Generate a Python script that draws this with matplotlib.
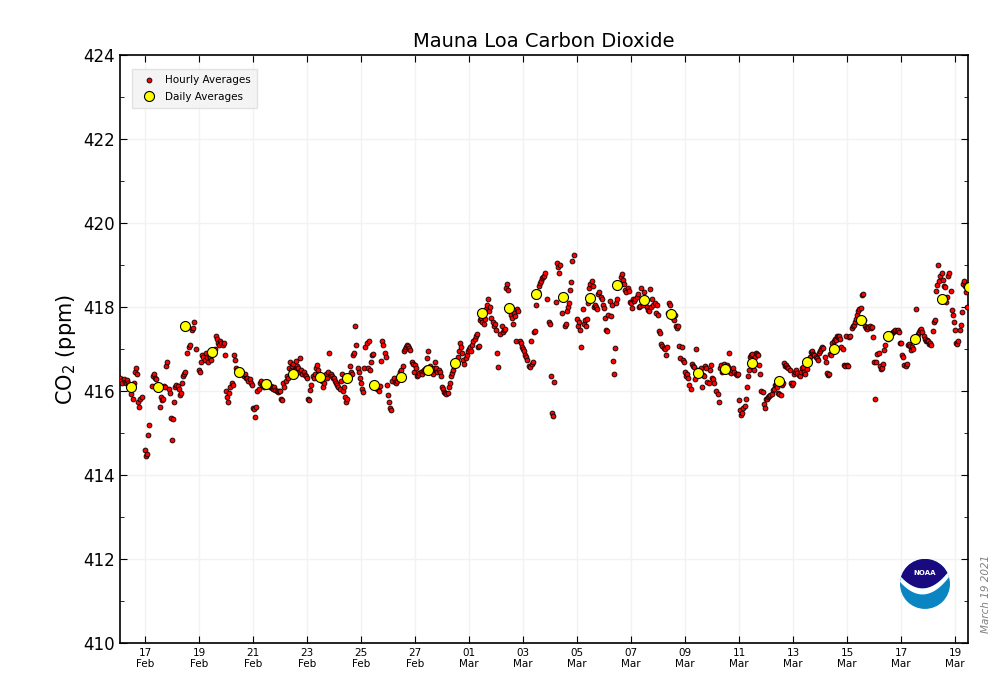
import numpy as np
import pandas as pd
import matplotlib
matplotlib.use("Agg")
import matplotlib.pyplot as plt
import matplotlib.dates as mdates
from matplotlib.patches import Circle, Polygon

nan = np.nan

# hourly averages (ppm), one row per day, hours 0..23
feb_hourly = [
    # Feb 16
    [nan, nan, 416.30, 416.25, 416.20, 416.28, 416.22, 416.18, 416.26, 416.20, 416.15, 416.05,
     415.93, 415.80, 416.20, 416.45, 416.55, 416.40, 415.75, 415.63, 415.80, 415.85, nan, nan],
    # Feb 17
    [414.60, 414.45, 414.50, 414.95, 415.20, nan, 416.12, 416.35, 416.40, 416.30, 416.28, 416.15,
     nan, 415.63, 415.85, 415.78, 415.80, 416.12, 416.10, 416.60, 416.70, 416.05, 415.95, 415.35],
    # Feb 18
    [414.83, 415.33, 415.75, 416.10, 416.15, 416.12, 416.05, 415.90, 415.95, 416.20, 416.35, 416.40,
     416.45, 416.90, nan, 417.05, 417.10, nan, 417.45, 417.50, 417.65, 417.00, nan, nan],
    # Feb 19
    [416.50, 416.45, 416.70, 416.85, 416.80, 416.75, 416.90, 416.80, 416.70, 416.85, 416.80, 416.75,
     416.95, 416.90, 417.00, 417.30, 417.25, 417.15, 417.10, 417.20, 417.15, 417.10, 417.15, 416.85],
    # Feb 20
    [416.00, 415.85, 415.75, 415.95, 416.10, 416.20, 416.15, 416.85, 416.75, 416.55, 416.50, 416.45,
     416.40, 416.48, 416.42, 416.38, 416.35, 416.40, 416.32, 416.30, 416.25, 416.28, 416.20, 416.15],
    # Feb 21
    [415.60, 415.57, 415.38, 415.62, 416.00, 416.05, 416.20, 416.25, 416.15, 416.18, 416.10, 416.20,
     416.12, 416.22, 416.15, 416.10, 416.12, 416.08, 416.05, 416.10, 416.02, 416.00, 415.98, 416.00],
    # Feb 22
    [416.00, 415.82, 415.78, 416.20, 416.10, 416.25, 416.35, 416.30, 416.55, 416.70, 416.50, 416.60,
     416.65, 416.50, 416.72, 416.60, 416.55, 416.45, 416.78, 416.50, 416.40, 416.45, 416.38, 416.35],
    # Feb 23
    [416.30, 415.80, 415.78, 416.02, 416.15, 416.35, 416.32, 416.40, 416.55, 416.62, 416.50, 416.38,
     416.30, 416.25, 416.10, 416.20, 416.35, 416.40, 416.30, 416.45, 416.90, 416.40, 416.35, 416.30],
    # Feb 24
    [416.30, 416.25, 416.20, 416.15, 416.10, 416.05, 416.25, 416.40, 416.00, 416.10, 415.85, 415.75,
     415.80, 416.30, 416.60, 416.45, 416.40, 416.85, 416.90, 417.55, 417.10, 416.55, 416.45, 416.30],
    # Feb 25
    [416.20, 416.05, 415.98, 416.55, 417.05, 417.15, 416.55, 417.18, 416.50, 416.70, 416.85, 416.88,
     416.15, 416.10, 416.05, 416.08, 416.00, 416.12, 416.72, 417.20, 417.10, 416.90, 416.80, 416.15],
    # Feb 26
    [415.90, 415.75, 415.60, 415.55, 416.25, 416.30, 416.22, 416.18, 416.25, 416.30, 416.35, 416.45,
     416.50, 416.60, 416.95, 417.00, 417.05, 417.10, 417.08, 417.02, 416.98, 416.70, 416.65, 416.45],
    # Feb 27
    [416.62, 416.55, 416.35, 416.38, 416.42, 416.45, 416.40, 416.48, 416.50, 416.52, 416.55, 416.78,
     416.95, 416.60, 416.50, 416.45, 416.40, 416.55, 416.70, 416.55, 416.45, 416.50, 416.45, 416.35],
    # Feb 28
    [416.10, 416.05, 415.98, 415.95, 415.92, 415.96, 416.10, 416.20, 416.35, 416.42, 416.50, 416.60,
     416.68, 416.72, 416.82, 416.95, 417.15, 417.05, 416.90, 416.75, 416.65, 416.78, 416.85, 416.95],
]

mar_hourly = [
    # Mar 1
    [417.00, 417.05, 416.95, 417.10, 417.20, 417.25, 417.30, 417.35, 417.05, 417.08, 417.70, 417.75,
     417.65, 417.60, 417.72, 417.95, 418.05, 418.20, 417.90, 418.00, 417.75, 417.65, 417.55, 417.60],
    # Mar 2
    [417.45, 416.90, 416.58, nan, 417.35, 417.55, 417.40, 417.45, 417.48, 418.45, 418.55, 418.40,
     417.90, 417.80, 417.75, 417.60, 417.85, 417.78, 417.20, 417.95, 417.90, 417.18, 417.15, 417.05],
    # Mar 3
    [417.00, 416.95, 416.85, 416.80, 416.75, 416.60, 416.58, 417.20, 416.65, 416.70, 417.40, 417.42,
     418.05, 418.35, 418.50, 418.58, 418.62, 418.70, 418.72, 418.75, 418.80, 418.18, nan, 417.65],
    # Mar 4
    [417.60, 416.35, 415.48, 415.40, 416.22, 418.12, 419.05, 418.95, 418.80, 419.00, nan, 417.85,
     418.25, 417.55, 417.60, 417.90, 418.00, 418.10, 418.40, 418.60, 419.10, 419.25, nan, nan],
    # Mar 5
    [417.72, 417.55, 417.65, 417.45, 417.05, 417.95, 417.60, 417.70, 417.55, 417.72, 418.10, 418.45,
     418.55, 418.62, 418.50, 418.00, 418.05, 418.00, 417.95, 418.30, 418.35, 418.25, 418.18, 418.05],
    # Mar 6
    [417.98, 417.75, 417.45, 417.42, 417.80, 418.15, 417.78, 418.05, 416.72, 416.40, 417.02, 418.10,
     418.20, 418.50, 418.58, 418.72, 418.78, 418.65, 418.55, 418.40, 418.35, 418.45, 418.38, 418.12],
    # Mar 7
    [418.10, 417.98, 418.20, 418.15, 418.18, 418.25, 418.30, 418.00, 418.02, 418.45, 418.20, 418.05,
     418.35, 418.18, 418.00, 417.92, 417.90, 418.42, 418.00, 418.20, 418.05, 418.10, 417.85, 418.05],
    # Mar 8
    [417.80, 417.42, 417.38, 417.12, 417.08, 417.02, 417.00, 416.85, 417.05, 417.85, 418.10, 418.05,
     417.80, 417.75, 417.70, 417.82, 417.55, 417.50, 417.55, 417.08, 416.78, 417.05, 416.75, 416.70],
    # Mar 9
    [416.45, 416.35, 416.40, 416.30, 416.15, 416.05, 416.65, 416.60, 416.58, 416.28, 417.00, 416.50,
     416.45, 416.50, 416.55, 416.10, 416.38, 416.35, 416.60, 416.55, 416.22, 416.20, 416.50, 416.62],
    # Mar 10
    [416.30, 416.28, 416.20, nan, 416.00, 415.92, 415.75, 416.55, 416.62, 416.45, 416.48, 416.65,
     416.55, 416.62, 416.58, 416.90, 416.45, 416.42, 416.50, 416.55, 416.45, 416.40, 416.38, 416.40],
    # Mar 11
    [415.78, 415.55, 415.42, 415.48, 415.60, 415.65, 415.80, 416.10, 416.35, 416.50, 416.80, 416.85,
     416.88, 416.50, 416.82, 416.90, 416.88, 416.85, 416.62, 416.40, 416.00, 415.98, 415.70, 415.60],
    # Mar 12
    [415.80, 415.82, 415.85, 415.88, 415.90, 415.94, 416.02, 416.05, 416.14, 416.15, 416.10, 415.95,
     415.92, 415.90, 416.14, 416.20, 416.67, 416.60, 416.62, 416.58, 416.55, 416.50, 416.18, 416.15],
    # Mar 13
    [416.20, 416.40, 416.45, 416.50, 416.42, 416.38, 416.35, 416.45, 416.55, 416.58, 416.45, 416.40,
     416.52, 416.70, 416.72, 416.80, 416.92, 416.95, 416.88, 416.85, 416.82, 416.78, 416.75, 416.90],
    # Mar 14
    [416.95, 417.00, 417.05, 417.02, 416.80, 416.70, 416.42, 416.38, 416.40, 416.88, 416.85, 417.15,
     417.20, 417.25, 417.22, 417.30, 417.28, 417.32, 417.25, 417.05, 417.00, 416.62, 416.60, 417.30],
    # Mar 15
    [416.62, 416.60, 417.28, 417.30, 417.50, 417.55, 417.58, 417.65, 417.72, 417.80, 417.90, 417.95,
     417.98, 418.28, 418.30, 417.70, 417.55, 417.50, 417.48, 417.52, 417.55, 417.50, 417.52, 417.28],
    # Mar 16
    [416.68, 415.80, 416.70, 416.88, 416.90, 416.60, 416.52, 416.55, 416.65, 416.98, 417.10, 417.28,
     417.25, 417.30, 417.32, 417.35, 417.38, 417.40, 417.42, 417.45, 417.42, 417.45, 417.40, 417.15],
    # Mar 17
    [417.15, 416.85, 416.80, 416.62, 416.60, 416.65, 417.10, 417.12, 417.08, 416.98, 417.05, 417.00,
     417.22, 417.95, 417.30, 417.35, 417.40, 417.45, 417.48, 417.40, 417.30, 417.25, 417.20, 417.22],
    # Mar 18
    [417.20, 417.12, 417.15, 417.10, 417.42, 417.65, 417.68, 418.38, 418.52, 419.00, 418.62, 418.75,
     418.80, 418.65, 418.50, 418.48, 418.12, 418.25, 418.75, 418.80, 418.38, 417.92, 417.80, 417.65],
    # Mar 19
    [417.45, 417.15, 417.12, 417.18, 417.45, 417.58, 417.88, 418.55, 418.62, 418.50, 418.35, 418.00,
     418.45, nan, nan, nan, nan, nan, nan, nan, nan, nan, nan, nan],
]

# daily averages (ppm)
feb_daily = [416.10, 416.10, 417.55, 416.93, 416.45, 416.17, 416.40, 416.33, 416.31,
             416.14, 416.33, 416.50, 416.67]
mar_daily = [417.86, 417.98, 418.31, 418.24, 418.21, 418.52, 418.17, 417.83, 416.43,
             416.52, 416.67, 416.24, 416.69, 417.00, 417.69, 417.31, 417.24, 418.19, 418.48]

hourly_vals = np.concatenate([np.ravel(feb_hourly), np.ravel(mar_hourly)])
hourly_t = pd.date_range("2021-02-16 00:00", periods=len(hourly_vals), freq="h")
daily_vals = np.array(feb_daily + mar_daily)
daily_t = pd.date_range("2021-02-16 12:00", periods=len(daily_vals), freq="D")

fig = plt.figure(figsize=(10, 7), dpi=100)
ax = fig.add_axes([0.12, 0.0814, 0.848, 0.84])

ax.plot(hourly_t, hourly_vals, "o", ls="none", ms=3.5, mfc="red", mec="black",
        mew=0.6, label="Hourly Averages", zorder=3)
ax.plot(daily_t, daily_vals, "o", ls="none", ms=7.2, mfc="yellow", mec="black",
        mew=0.8, label="Daily Averages", zorder=4)

ax.set_xlim(pd.Timestamp("2021-02-16 01:48"), pd.Timestamp("2021-03-19 11:33"))
ax.set_ylim(410, 424)
ax.xaxis.set_major_locator(mdates.DayLocator(bymonthday=range(1, 32, 2)))
ax.xaxis.set_major_formatter(mdates.DateFormatter("%d\n%b"))
ax.set_yticks(range(410, 425, 2))
ax.set_yticks(range(411, 424, 2), minor=True)
ax.tick_params(axis="both", which="both", direction="in", top=True, right=True)
ax.tick_params(axis="x", which="major", labelsize=7.5, length=5)
ax.tick_params(axis="y", which="major", labelsize=12, length=5)
ax.tick_params(axis="y", which="minor", length=3)
ax.grid(True, which="major", color="#f2f2f2", lw=1)
ax.set_axisbelow(True)
for s in ax.spines.values():
    s.set_linewidth(1.2)

ax.set_title("Mauna Loa Carbon Dioxide", fontsize=14)
ax.set_ylabel("CO$_2$ (ppm)", fontsize=15)

leg = ax.legend(loc="upper left", bbox_to_anchor=(0.008, 0.985), fontsize=7.5,
                fancybox=False, frameon=True, borderpad=0.6, labelspacing=0.6,
                handletextpad=0.6)
leg.get_frame().set_facecolor("#f2f2f2")
leg.get_frame().set_edgecolor("#dddddd")

fig.text(0.986, 0.151, "March 19 2021", rotation=90, ha="center", va="center",
         fontsize=7.5, color="gray", style="italic")

# NOAA logo
lax = fig.add_axes([0.9, 0.1301, 0.05, 0.0714])
lax.set_xlim(-1, 1)
lax.set_ylim(-1, 1)
lax.set_aspect("equal")
lax.axis("off")
disc = Circle((0, 0), 1, fc="#0a85c2", ec="none")
lax.add_patch(disc)
xs = np.linspace(-1.1, 1.1, 40)
curve = -0.3 + 0.62 * (xs + 0.1) ** 2
navy = Polygon(np.column_stack([np.r_[xs, 1.1, -1.1], np.r_[curve + 0.12, 1.2, 1.2]]),
               fc="#1a0a80", ec="none")
white = Polygon(np.column_stack([np.r_[xs, xs[::-1]], np.r_[curve + 0.12, curve[::-1] - 0.12]]),
                fc="white", ec="none")
for p in (navy, white):
    lax.add_patch(p)
    p.set_clip_path(disc)
lax.text(0, 0.45, "NOAA", color="white", fontsize=5, fontweight="bold",
         ha="center", va="center")

fig.savefig("out.png", dpi=100)
